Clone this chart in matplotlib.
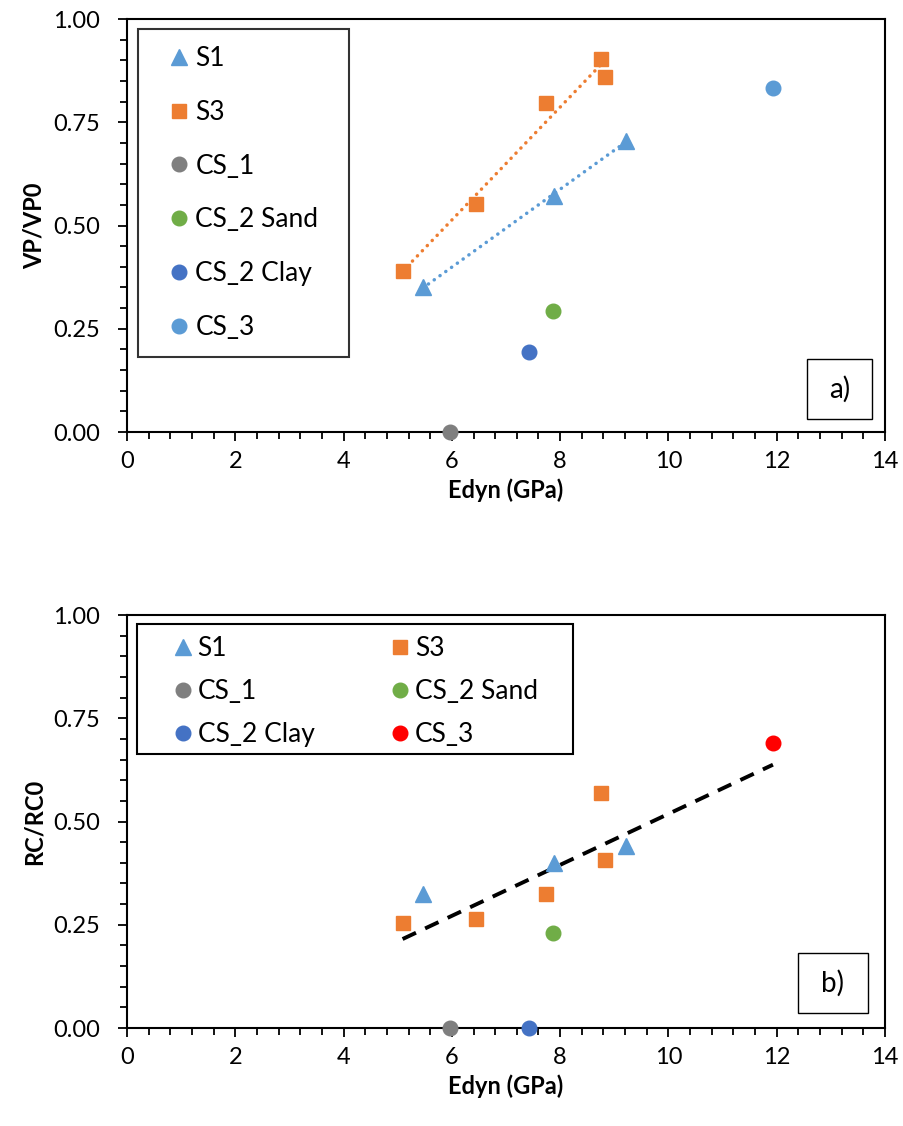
import matplotlib
matplotlib.use("Agg")
import matplotlib.pyplot as plt
from matplotlib.patches import Rectangle
from matplotlib.ticker import MultipleLocator, FormatStrFormatter
import numpy as np

plt.rcParams['font.family'] = ['Lato', 'DejaVu Sans']

# Edyn (GPa) per sample
s1_x = [5.46, 7.88, 9.21]
s3_x = [5.09, 6.45, 7.73, 8.75, 8.82]
cs1_x = [5.96]
cs2_sand_x = [7.86]
cs2_clay_x = [7.42]
cs3_x = [11.93]

# a) VP/VP0
s1_vp = [0.350, 0.572, 0.705]
s3_vp = [0.389, 0.553, 0.797, 0.903, 0.860]
cs1_vp = [0.0]
cs2_sand_vp = [0.292]
cs2_clay_vp = [0.193]
cs3_vp = [0.833]

# b) RC/RC0
s1_rc = [0.324, 0.399, 0.440]
s3_rc = [0.254, 0.263, 0.324, 0.570, 0.406]
cs1_rc = [0.0]
cs2_sand_rc = [0.229]
cs2_clay_rc = [0.0]
cs3_rc = [0.691]

labels = ["S1", "S3", "CS_1", "CS_2 Sand", "CS_2 Clay", "CS_3"]
BLUE = "#5B9BD5"
ORANGE = "#ED7D31"
GRAY = "#7F7F7F"
GREEN = "#70AD47"
DBLUE = "#4472C4"
RED = "#FF0000"


def style_axes(ax, ylabel):
    ax.set_xlim(0, 14)
    ax.set_ylim(0, 1.0)
    ax.xaxis.set_major_locator(MultipleLocator(2))
    ax.xaxis.set_minor_locator(MultipleLocator(0.4))
    ax.yaxis.set_major_locator(MultipleLocator(0.25))
    ax.yaxis.set_minor_locator(MultipleLocator(0.05))
    ax.yaxis.set_major_formatter(FormatStrFormatter('%.2f'))
    ax.tick_params(which='major', direction='out', length=6.5, width=1.3,
                   labelsize=17, top=False, right=False)
    ax.tick_params(which='minor', direction='out', length=5, width=1.3,
                   top=False, right=False)
    ax.tick_params(axis='x', which='major', pad=7)
    ax.tick_params(axis='y', which='major', pad=13)
    for sp in ax.spines.values():
        sp.set_linewidth(1.5)
        sp.set_color('black')
    ax.set_xlabel("Edyn (GPa)", fontsize=17, fontweight='bold', labelpad=5)
    ax.set_ylabel(ylabel, fontsize=17, fontweight='bold', labelpad=5)


def tag_box(ax, text, cx, cy, w, h):
    ax.add_patch(Rectangle((cx - w / 2, cy - h / 2), w, h, transform=ax.transAxes,
                           facecolor='white', edgecolor='black', lw=1.0, zorder=5))
    ax.text(cx, cy, text, transform=ax.transAxes, ha='center', va='center',
            fontsize=20, zorder=6)


def trend(ax, x, y, **kw):
    x = np.asarray(x)
    y = np.asarray(y)
    k, b = np.polyfit(x, y, 1)
    xs = np.array([x.min(), x.max()])
    ax.plot(xs, k * xs + b, zorder=2, **kw)


fig = plt.figure(figsize=(9.04, 11.26), dpi=100)
ax1 = fig.add_axes([0.1405, 0.6163, 0.8385, 0.3668])
ax2 = fig.add_axes([0.1405, 0.0870, 0.8385, 0.3668])

ms_sq = 10.5
ms_ci = 10.5
ms_tr = 11

# ---- a) ----
dot = dict(lw=2.5, linestyle=(0, (0.05, 2.0)), dash_capstyle='round')
trend(ax1, s1_x, s1_vp, color=BLUE, **dot)
trend(ax1, s3_x, s3_vp, color=ORANGE, **dot)
h = []
h += ax1.plot(s1_x, s1_vp, '^', color=BLUE, ms=ms_tr, ls='none', zorder=3)
h += ax1.plot(s3_x, s3_vp, 's', color=ORANGE, ms=ms_sq, ls='none', zorder=3)
h += ax1.plot(cs1_x, cs1_vp, 'o', color=GRAY, ms=ms_ci, ls='none', zorder=3, clip_on=False)
h += ax1.plot(cs2_sand_x, cs2_sand_vp, 'o', color=GREEN, ms=ms_ci, ls='none', zorder=3)
h += ax1.plot(cs2_clay_x, cs2_clay_vp, 'o', color=DBLUE, ms=ms_ci, ls='none', zorder=3)
h += ax1.plot(cs3_x, cs3_vp, 'o', color=BLUE, ms=ms_ci, ls='none', zorder=3)
style_axes(ax1, "VP/VP0")
leg = ax1.legend(h, labels, loc='upper left',
                 bbox_to_anchor=(0.0145, 0.976, 0.278, 0.0), mode='expand',
                 borderaxespad=0, fontsize=19, frameon=True, fancybox=False,
                 labelspacing=1.09, handletextpad=-0.3, handlelength=1.82,
                 borderpad=0.65, markerscale=1.0)
leg.get_frame().set_edgecolor('black')
leg.get_frame().set_linewidth(1.5)
tag_box(ax1, "a)", 0.940, 0.104, 0.0858, 0.145)

# ---- b) ----
all_x = s1_x + s3_x + cs2_sand_x + cs3_x
all_rc = s1_rc + s3_rc + cs2_sand_rc + cs3_rc
trend(ax2, all_x, all_rc, color='black', lw=2.8, linestyle=(0, (3.8, 2.6)))
g = []
g += ax2.plot(s1_x, s1_rc, '^', color=BLUE, ms=ms_tr, ls='none', zorder=3)
g += ax2.plot(s3_x, s3_rc, 's', color=ORANGE, ms=ms_sq, ls='none', zorder=3)
g += ax2.plot(cs1_x, cs1_rc, 'o', color=GRAY, ms=ms_ci, ls='none', zorder=3, clip_on=False)
g += ax2.plot(cs2_sand_x, cs2_sand_rc, 'o', color=GREEN, ms=ms_ci, ls='none', zorder=3)
g += ax2.plot(cs2_clay_x, cs2_clay_rc, 'o', color=DBLUE, ms=ms_ci, ls='none', zorder=3, clip_on=False)
g += ax2.plot(cs3_x, cs3_rc, 'o', color=RED, ms=ms_ci, ls='none', zorder=3)
style_axes(ax2, "RC/RC0")
order = [0, 2, 4, 1, 3, 5]
leg2 = ax2.legend([g[i] for i in order], [labels[i] for i in order], ncol=2,
                  loc='upper left', bbox_to_anchor=(0.0145, 0.976),
                  borderaxespad=0, fontsize=19, frameon=False,
                  labelspacing=0.69, handletextpad=-0.75, handlelength=2.6,
                  borderpad=0.41, columnspacing=1.95, markerscale=1.0)
# legend frame of panel b (wider than its text, as in the original)
ax2.add_patch(Rectangle((0.0132, 0.663), 0.575, 0.315, transform=ax2.transAxes,
                        fill=False, edgecolor='black', lw=1.5, zorder=4))
tag_box(ax2, "b)", 0.931, 0.109, 0.0923, 0.145)

fig.savefig("out.png", dpi=100)
